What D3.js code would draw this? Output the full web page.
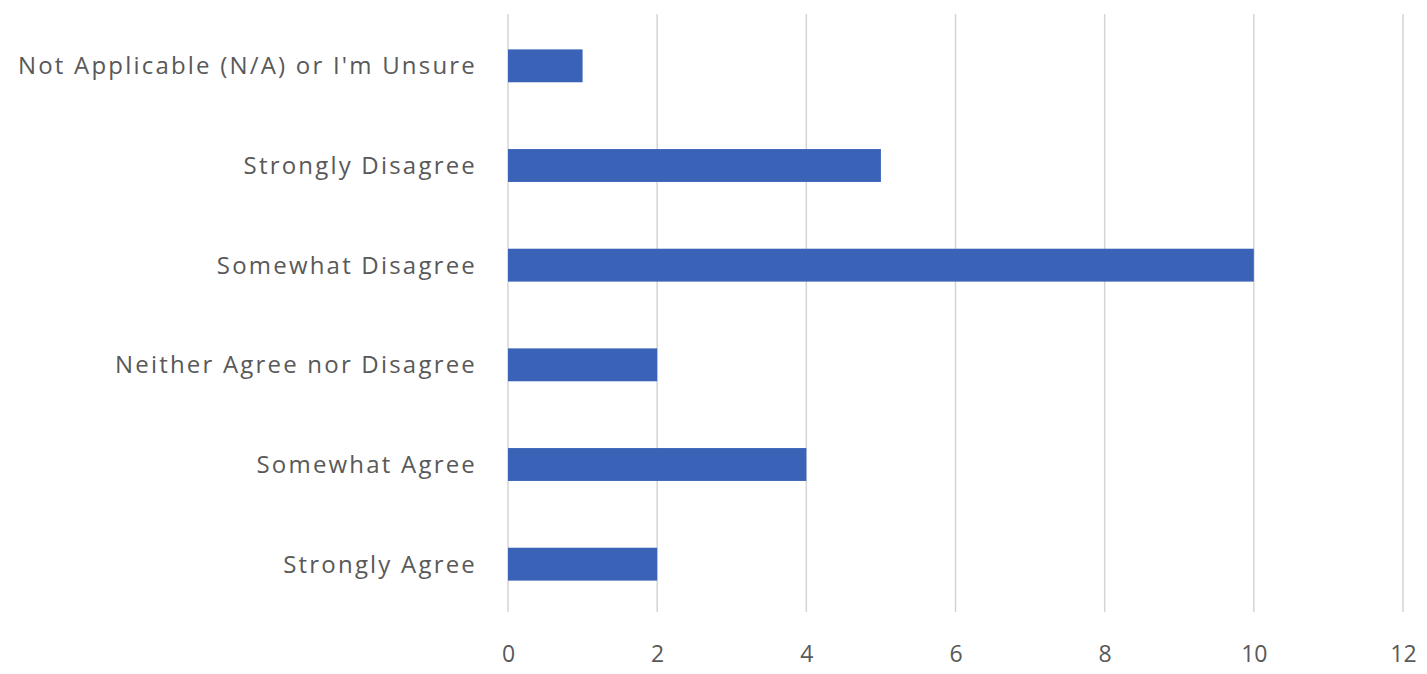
<!DOCTYPE html>
<html><head><meta charset="utf-8">
<script src="https://cdn.jsdelivr.net/npm/d3@7"></script>
<style>body{margin:0;background:#fff}</style>
</head><body>
<svg id="c" width="1427" height="674"></svg>
<script>
const categories = ["Not Applicable (N/A) or I'm Unsure","Strongly Disagree","Somewhat Disagree","Neither Agree nor Disagree","Somewhat Agree","Strongly Agree"];
const values = [1,5,10,2,4,2];
const ticks = [0,2,4,6,8,10,12];

const svg = d3.select("#c");
const x = d3.scaleLinear().domain([0,12]).range([508,1403]);
const y = d3.scaleBand().domain(categories).range([16,614]).paddingInner(0.67).paddingOuter(0.335);

svg.append("g").selectAll("line").data(ticks).join("line")
  .attr("x1",d=>x(d)).attr("x2",d=>x(d)).attr("y1",14).attr("y2",612)
  .attr("stroke","#d4d4d4").attr("stroke-width",1.5);

svg.append("g").selectAll("rect").data(values).join("rect")
  .attr("x",x(0)).attr("y",(d,i)=>y(categories[i]))
  .attr("width",d=>x(d)-x(0)).attr("height",y.bandwidth())
  .attr("fill","#3A62B7");

const xa = svg.append("g").attr("transform","translate(0,612)")
  .call(d3.axisBottom(x).tickValues(ticks).tickSize(0).tickPadding(34));
xa.select(".domain").remove();
xa.selectAll("text").attr("font-family","Open Sans, sans-serif").attr("font-size",23).attr("fill","#595959");

svg.append("g").selectAll("text").data(categories).join("text")
  .attr("x",477).attr("y",d=>y(d)+y.bandwidth()/2).attr("dy","0.35em")
  .attr("text-anchor","end").attr("font-family","Open Sans, sans-serif").attr("font-size",24)
  .attr("letter-spacing","2.2px")
  .attr("fill","#595959").text(d=>d);
</script>
</body></html>
